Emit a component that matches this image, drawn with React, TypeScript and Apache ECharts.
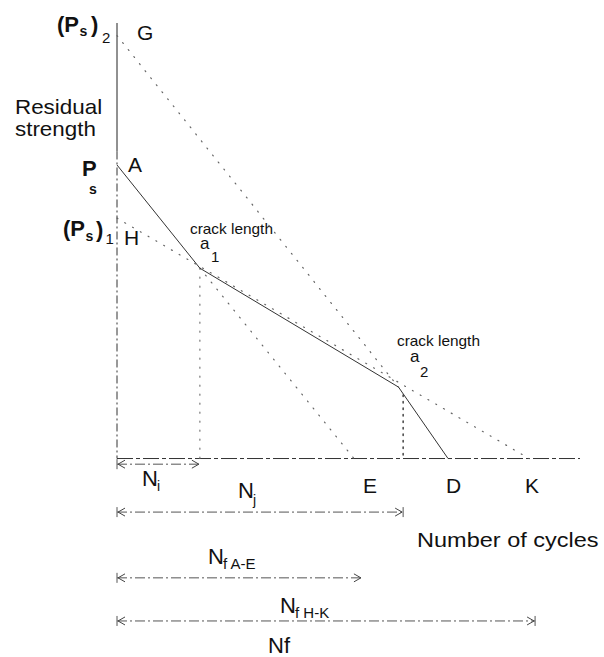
import React, { useEffect, useRef } from "react";
import * as echarts from "echarts";

// Residual strength vs. number of cycles (schematic units, 0..100 on both axes)
const damagePathX = [0, 17.9, 60.8, 71.5]; // A -> a1 -> a2 -> D
const damagePathY = [67.4, 43.7, 16.4, 0];
const lineGX = [0, 60.8]; // G -> a2
const lineGY = [97.1, 16.4];
const lineHKX = [0, 89.0]; // H -> K
const lineHKY = [55.2, 0];
const lineAEX = [17.9, 51.2]; // a1 -> E
const lineAEY = [43.7, 0];
const dropA1X = [17.9, 17.9];
const dropA1Y = [43.7, 0];
const dropA2X = [61.8, 61.8];
const dropA2Y = [14.6, 0];
const axisSolidY = [100, 70.5];
const axisDashY = [70.5, 0];

// life spans measured from the origin (end cycle, level below the axis, end tick)
const spanNames = ["N_i", "N_j", "N_f A-E", "N_f H-K"];
const spanEnds = [17.9, 61.8, 52.9, 90.3];
const spanLevels = [-1.3, -12.3, -27.4, -37.3];
const spanEndTicks = [0, 1, 0, 1];

const FONT = '"Liberation Sans", Arial, Helvetica, sans-serif';

const pairs = (xs: number[], ys: number[]) => xs.map((x, i) => [x, ys[i]]);

function txt(text: string, x: number, y: number, size: number, bold = false, sx = 1) {
  return {
    type: "text",
    x,
    y,
    scaleX: sx,
    silent: true,
    style: {
      text,
      x: 0,
      y: 0,
      font: `${bold ? "bold " : ""}${size}px ${FONT}`,
      fill: "#111",
      align: "left",
      verticalAlign: "middle",
    },
  };
}

const dotted = (color: string, dash: number[], width = 1.2) => ({
  color,
  width,
  type: dash,
  cap: "round",
});

export default function App() {
  const ref = useRef<HTMLDivElement>(null);

  useEffect(() => {
    if (!ref.current) return;
    const chart = echarts.init(ref.current, undefined, { renderer: "svg" });

    const lineSeries = (name: string, xs: number[], ys: number[], lineStyle: any, z = 2) => ({
      name,
      type: "line",
      data: pairs(xs, ys),
      symbol: "none",
      silent: true,
      z,
      lineStyle,
    });

    const spanData = spanNames.map((n, i) => ({
      name: n,
      value: [0, spanEnds[i], spanLevels[i], spanEndTicks[i]],
    }));

    chart.setOption({
      animation: false,
      backgroundColor: "#fff",
      grid: { left: 117, right: 24, top: 23, bottom: 2.5 },
      xAxis: {
        type: "value",
        min: 0,
        max: 100,
        axisLine: { show: false },
        axisTick: { show: false },
        axisLabel: { show: false },
        splitLine: { show: false },
      },
      yAxis: {
        type: "value",
        min: -45,
        max: 100,
        axisLine: { show: false },
        axisTick: { show: false },
        axisLabel: { show: false },
        splitLine: { show: false },
      },
      series: [
        lineSeries("x axis", [0, 100], [0, 0], { color: "#333", width: 1, type: [16, 3, 4, 3] }),
        lineSeries("y axis", [0, 0], axisSolidY, { color: "#222", width: 1 }),
        lineSeries("y axis lower", [0, 0], axisDashY, { color: "#333", width: 1, type: [8, 3, 2, 3] }),
        lineSeries("G", lineGX, lineGY, dotted("#666", [1, 8])),
        lineSeries("H-K", lineHKX, lineHKY, dotted("#666", [1, 8])),
        lineSeries("A-E", lineAEX, lineAEY, dotted("#666", [1, 8])),
        lineSeries("a1 drop", dropA1X, dropA1Y, dotted("#777", [1, 8])),
        lineSeries("a2 drop", dropA2X, dropA2Y, dotted("#333", [1.5, 5], 1.4)),
        lineSeries("residual strength", damagePathX, damagePathY, { color: "#333", width: 1 }, 3),
        {
          name: "spans",
          type: "custom",
          silent: true,
          data: spanData,
          renderItem: (_p: any, api: any) => {
            const p0 = api.coord([api.value(0), api.value(2)]);
            const p1 = api.coord([api.value(1), api.value(2)]);
            const stroke = "#444";
            const children: any[] = [
              {
                type: "line",
                shape: { x1: p0[0], y1: p0[1], x2: p1[0], y2: p1[1] },
                style: { stroke: "#555", lineWidth: 1, lineDash: [10, 3, 2, 3] },
              },
              {
                type: "polyline",
                shape: { points: [[p0[0] + 8, p0[1] - 4], [p0[0] + 1, p0[1]], [p0[0] + 8, p0[1] + 4]] },
                style: { stroke, fill: "none", lineWidth: 1 },
              },
              {
                type: "polyline",
                shape: { points: [[p1[0] - 8, p1[1] - 4], [p1[0] - 1, p1[1]], [p1[0] - 8, p1[1] + 4]] },
                style: { stroke, fill: "none", lineWidth: 1 },
              },
              {
                type: "line",
                shape: { x1: p0[0], y1: p0[1] - 5, x2: p0[0], y2: p0[1] + 5 },
                style: { stroke: "#555", lineWidth: 1 },
              },
            ];
            if (api.value(3)) {
              children.push({
                type: "line",
                shape: { x1: p1[0], y1: p1[1] - 5, x2: p1[0], y2: p1[1] + 5 },
                style: { stroke: "#555", lineWidth: 1 },
              });
            }
            return { type: "group", children };
          },
        },
      ],
      graphic: [
        // (Ps)2 and G
        txt("(P", 57, 24, 22, true),
        txt("s", 79.5, 31, 14, true),
        txt(")", 91, 24, 22, true),
        txt("2", 102, 37, 15),
        txt("G", 137, 32.5, 21),
        // axis title
        txt("Residual", 15, 107, 20, false, 1.12),
        txt("strength", 15, 129, 20, false, 1.12),
        // Ps and A
        txt("P", 82, 168.5, 22, true),
        txt("s", 89, 189, 14, true),
        txt("A", 128, 164.5, 21),
        // (Ps)1 and H
        txt("(P", 63, 228.5, 22, true),
        txt("s", 85.5, 236, 14, true),
        txt(")", 96, 229, 22, true),
        txt("1", 105.5, 238, 15),
        txt("H", 124, 237.5, 21),
        // crack lengths
        txt("crack length", 190, 229.5, 14, false, 1.1),
        txt("a", 200, 243, 17),
        txt("1", 211, 256, 15),
        txt("crack length", 397, 341, 14, false, 1.1),
        txt("a", 410, 356, 17),
        txt("2", 420, 371, 15),
        // points on the cycle axis
        txt("E", 363, 485, 21),
        txt("D", 446, 485, 21),
        txt("K", 525, 485, 21),
        txt("Number of cycles", 417, 539.5, 21, false, 1.12),
        // life spans
        txt("N", 142, 478.5, 22),
        txt("i", 157, 486, 14),
        txt("N", 238, 490, 22),
        txt("j", 253, 500, 14),
        txt("N", 208, 556.5, 22),
        txt("f A-E", 223, 563, 15),
        txt("N", 280, 605.5, 22),
        txt("f H-K", 295, 612, 15),
        txt("Nf", 268, 645, 22),
      ],
    });

    return () => chart.dispose();
  }, []);

  return (
    <div
      ref={ref}
      style={{ position: "absolute", left: 0, top: 0, width: 604, height: 657, background: "#fff" }}
    />
  );
}
